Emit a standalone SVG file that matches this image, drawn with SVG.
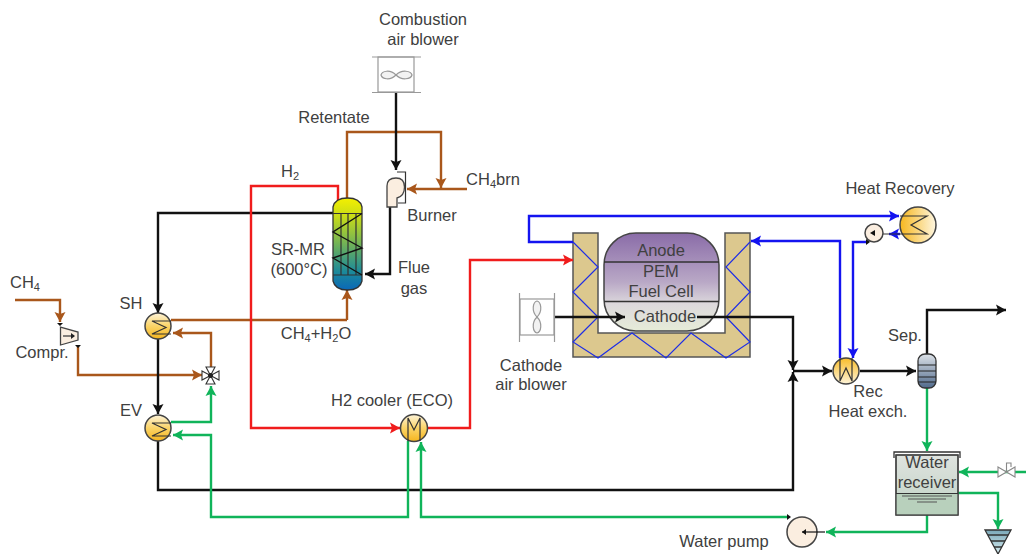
<svg xmlns="http://www.w3.org/2000/svg" width="1026" height="554" viewBox="0 0 1026 554">
<style>
text{font-family:"Liberation Sans",Arial,sans-serif;font-size:16.500px;fill:#404040;text-anchor:middle}
.sub{font-size:11px}
.l{fill:none;stroke-width:2.400;stroke-linejoin:miter}
.k{stroke:#111}.b{stroke:#a9571b}.r{stroke:#f01c1c}.g{stroke:#10b45a}.u{stroke:#1414f0}
.ak{marker-end:url(#ak)}.ab{marker-end:url(#ab)}.ar{marker-end:url(#ar)}.ag{marker-end:url(#ag)}.au{marker-end:url(#au)}
.hx{fill:url(#hxg);stroke:#444;stroke-width:1.500}
.ln{fill:none;stroke:#333;stroke-width:1.200}
.gr{fill:none;stroke:#999;stroke-width:1.200}
.pump{fill:#fbeee0;stroke:#444;stroke-width:1.500}
</style>
<defs>
<marker id="ak" markerUnits="userSpaceOnUse" markerWidth="11" markerHeight="12" refX="10" refY="6" orient="auto"><path d="M0 0.500L10 6L0 11.500L2 6Z" fill="#111"/></marker>
<marker id="ab" markerUnits="userSpaceOnUse" markerWidth="11" markerHeight="12" refX="10" refY="6" orient="auto"><path d="M0 0.500L10 6L0 11.500L2 6Z" fill="#a9571b"/></marker>
<marker id="ar" markerUnits="userSpaceOnUse" markerWidth="11" markerHeight="12" refX="10" refY="6" orient="auto"><path d="M0 0.500L10 6L0 11.500L2 6Z" fill="#f01c1c"/></marker>
<marker id="ag" markerUnits="userSpaceOnUse" markerWidth="11" markerHeight="12" refX="10" refY="6" orient="auto"><path d="M0 0.500L10 6L0 11.500L2 6Z" fill="#10b45a"/></marker>
<marker id="au" markerUnits="userSpaceOnUse" markerWidth="11" markerHeight="12" refX="10" refY="6" orient="auto"><path d="M0 0.500L10 6L0 11.500L2 6Z" fill="#1414f0"/></marker>
<linearGradient id="hxg" x1="0" y1="0" x2="0" y2="1"><stop offset="0" stop-color="#fdf3d8"/><stop offset="0.5" stop-color="#fbd468"/><stop offset="1" stop-color="#f5b51e"/></linearGradient>
<linearGradient id="hxh" x1="1" y1="0" x2="0" y2="0"><stop offset="0" stop-color="#fef6e0"/><stop offset="1" stop-color="#f7b71d"/></linearGradient>
<linearGradient id="hxs" x1="0" y1="1" x2="0" y2="0"><stop offset="0" stop-color="#fdf3d8"/><stop offset="1" stop-color="#f8bd2a"/></linearGradient>
<linearGradient id="rx" x1="0" y1="0" x2="0" y2="1"><stop offset="0" stop-color="#f4f000"/><stop offset="0.2" stop-color="#c8dc18"/><stop offset="0.55" stop-color="#62ab62"/><stop offset="0.8" stop-color="#1c8a9a"/><stop offset="1" stop-color="#0a68b8"/></linearGradient>
<linearGradient id="fc" x1="0" y1="0" x2="0" y2="1"><stop offset="0" stop-color="#8a6ca8"/><stop offset="0.5" stop-color="#b9a8c6"/><stop offset="0.72" stop-color="#dcd8dc"/><stop offset="1" stop-color="#e6ecd8"/></linearGradient>
<linearGradient id="wr" x1="0" y1="0" x2="0" y2="1"><stop offset="0" stop-color="#dfe3df"/><stop offset="1" stop-color="#c0d2c4"/></linearGradient>
<linearGradient id="sp" x1="0" y1="0" x2="0" y2="1"><stop offset="0" stop-color="#dde2e8"/><stop offset="1" stop-color="#506a8c"/></linearGradient>
<linearGradient id="tk" x1="0" y1="0" x2="0" y2="1"><stop offset="0" stop-color="#7aa8b8"/><stop offset="1" stop-color="#d8eef2"/></linearGradient>
</defs>

<g id="fuel-cell">
<path d="M573 233H598V333H725V233H750V357H573Z" fill="#dcc88e" stroke="#555" stroke-width="1.500"/>
<path d="M573 242L598 267L573 292L598 317L573 342L598 358L632 333L666 358L691 333L726 358L750 342L726 317L750 292L726 267L750 242" fill="none" stroke="#1e2ee6" stroke-width="1.200"/>
<rect x="604" y="233" width="115" height="98" rx="32" ry="32" fill="url(#fc)" stroke="#444" stroke-width="1.500"/>
<path d="M604 262H719M604 301.500H719" stroke="#333" stroke-width="1.300"/>
<text x="661" y="256">Anode</text>
<text x="661" y="277">PEM</text>
<text x="661" y="297">Fuel Cell</text>
<text x="665" y="322">Cathode</text>
</g>

<g id="connectors">
<path class="l b ab" d="M15 300H60V322"/>
<path class="l b ab" d="M78 345V375H202"/>
<path class="l b" d="M171 320H347"/>
<path class="l b ab" d="M347 320V290"/>
<path class="l b ab" d="M211 367V333H173"/>
<path class="l b ab" d="M347 198V132H441V188"/>
<path class="l b ab" d="M467 189H407"/>
<path class="l k ak" d="M333 213H158V313"/>
<path class="l k ak" d="M158 339V414"/>
<path class="l k ak" d="M158 441V490H793V372"/>
<path class="l k ak" d="M396 92V170"/>
<path class="l k ak" d="M390 207V274H365"/>
<path class="l k ak" d="M555 317H625"/>
<path class="l k ak" d="M697 317H793V370"/>
<path class="l k ak" d="M793 371H832"/>
<path class="l k ak" d="M860 371H916"/>
<path class="l k ak" d="M927 354V310H1006"/>
<path class="l r ar" d="M338 200V186H251V428H400"/>
<path class="l r ar" d="M427 428H470V260H573"/>
<path class="l g ag" d="M171 422H211V386"/>
<path class="l g ag" d="M408 441V517H211V435H173"/>
<path class="l g ag" d="M787 517H421V442"/>
<path class="l g ag" d="M927 515V532H826"/>
<path class="l g ag" d="M927 388V451"/>
<path class="l g ag" d="M1026 472H959"/>
<path class="l g ag" d="M958 493H998V529"/>
<path class="l u au" d="M573 242H529V216H899"/>
<path class="l u au" d="M840 358V241H751"/>
<path class="l u au" d="M900 234H889"/>
<path class="l u au" d="M868 242H853V358"/>
</g>

<g id="compressor">
<path d="M60.500 327L78 332V340L60.500 345Z" fill="#fbeee0" stroke="#444" stroke-width="1.300"/>
<path d="M63 336H74" class="ln"/><path d="M71 333L75 336L71 339Z" fill="#222"/>
<path d="M57 323H63L60 326ZM75 345H81L78 348Z" fill="#111"/>
<text x="42" y="358">Compr.</text>
<text x="25" y="288">CH<tspan class="sub" dy="3">4</tspan></text>
</g>

<g id="sh">
<circle cx="158" cy="326" r="13" class="hx"/>
<path class="ln" d="M171 321H152L166 327.500L152 334H171"/>
<text x="131" y="309">SH</text>
</g>

<g id="ev">
<circle cx="158" cy="428" r="13" class="hx"/>
<path class="ln" d="M171 423H152L166 429.500L152 436H171"/>
<text x="131" y="416">EV</text>
</g>

<g id="valve">
<path d="M202 371L210.500 375.500L202 380ZM219 371L210.500 375.500L219 380ZM206 367H215L210.500 375.500ZM206 384H215L210.500 375.500Z" fill="#fff" stroke="#333" stroke-width="1.100"/>
<circle cx="210.500" cy="375.500" r="2.500" fill="#222"/>
</g>

<g id="reactor">
<path d="M333 207Q335 198 347.500 198Q360 198 362 207V281Q360 290 347.500 290Q335 290 333 281Z" fill="url(#rx)" stroke="#333" stroke-width="1.300"/>
<path class="ln" d="M333 213.500H362M333 275H362M341 213V275M348 213V275M356 213V275"/>
<path d="M362 213.500L333 232L362 248L333 258L362 275" fill="none" stroke="#111" stroke-width="1.400"/>
<text x="298" y="255">SR-MR</text>
<text x="299" y="275">(600°C)</text>
<text x="290" y="177">H<tspan class="sub" dy="3">2</tspan></text>
<text x="334" y="123">Retentate</text>
<text x="414" y="273">Flue</text>
<text x="414" y="294">gas</text>
<text x="316" y="339">CH<tspan class="sub" dy="3">4</tspan><tspan dy="-3">+H</tspan><tspan class="sub" dy="3">2</tspan><tspan dy="-3">O</tspan></text>
</g>

<g id="combustion-air-blower">
<rect x="378" y="57" width="36" height="35" fill="#fff" stroke="#999" stroke-width="1.200"/>
<path class="gr" d="M372 57H421M372 92.500H421"/>
<path d="M396 75C390 69 382 71 381 75C382 79 390 81 396 75C402 69 411 71 412 75C411 79 402 81 396 75Z" fill="#f2f2f2" stroke="#999" stroke-width="1.200"/>
<text x="423" y="25">Combustion</text>
<text x="423" y="45">air blower</text>
</g>

<g id="burner">
<path d="M397 172H405.500V203H398" fill="none" stroke="#333" stroke-width="1.200"/>
<path d="M387 207V186Q387 178 396 178Q404.500 178 404.500 187Q404.500 196 397 198V207Z" fill="#fbeee0" stroke="#444" stroke-width="1.300"/>
<text x="432" y="221">Burner</text>
<text x="493" y="185">CH<tspan class="sub" dy="3">4</tspan><tspan dy="-3">brn</tspan></text>
</g>

<g id="h2-cooler">
<circle cx="414" cy="428" r="13.500" class="hx"/>
<path class="ln" d="M408 441V418L414 430L420 418V441"/>
<text x="392" y="406">H2 cooler (ECO)</text>
</g>

<g id="cathode-air-blower">
<rect x="520" y="299" width="34" height="36" fill="#fff" stroke="#999" stroke-width="1.200"/>
<path class="gr" d="M519.500 293V342M554.500 293V342"/>
<path d="M537 317C531 311 533 302 537 301C541 302 543 311 537 317C531 323 533 332 537 333C541 332 543 323 537 317Z" fill="#f2f2f2" stroke="#999" stroke-width="1.200"/>
<text x="531" y="371">Cathode</text>
<text x="531" y="390">air blower</text>
</g>

<g id="rec-hx">
<circle cx="846" cy="371" r="13" fill="url(#hxs)" stroke="#444" stroke-width="1.500"/>
<path class="ln" d="M840 358V381L846 368L852 381V358"/>
<text x="868" y="397">Rec</text>
<text x="868" y="417">Heat exch.</text>
</g>

<g id="heat-recovery">
<circle cx="918" cy="225" r="18" fill="url(#hxh)" stroke="#444" stroke-width="1.500"/>
<path class="ln" d="M900 216H927L911 225L927 234H880"/>
<text x="900" y="194">Heat Recovery</text>
</g>

<g id="small-pump">
<circle cx="874" cy="233" r="9" class="pump"/>
<path d="M870 233L875 230V236Z" fill="#111"/>
<path d="M866 239L870 242L866 245Z" fill="#111"/>
</g>

<g id="separator">
<rect x="918" y="354" width="18" height="34" rx="7" ry="7" fill="url(#sp)" stroke="#333" stroke-width="1.300"/>
<path d="M918 365H936M918 371H936M918 377H936M918 382H936" stroke="#222" stroke-width="1"/>
<text x="905" y="341">Sep.</text>
</g>

<g id="water-receiver">
<rect x="896" y="455" width="62" height="60" fill="url(#wr)" stroke="#444" stroke-width="1.300"/>
<path d="M896 493.500H958V515H896Z" fill="#b8d0bc"/>
<rect x="896" y="455" width="62" height="60" fill="none" stroke="#444" stroke-width="1.300"/>
<path d="M894 458V452H960V458" fill="none" stroke="#333" stroke-width="1.300"/>
<path d="M896 493.500H958" stroke="#333" stroke-width="1.200"/>
<path d="M902 496H952M908 499H946M917 502H937" stroke="#555" stroke-width="1.100"/>
<text x="927" y="468">Water</text>
<text x="927" y="488">receiver</text>
</g>

<g id="makeup-valve">
<path d="M998 467L1015 477V467L998 477Z" fill="#fff" stroke="#888" stroke-width="1.100"/>
<path d="M1006.500 472V463H1011V467" fill="none" stroke="#888" stroke-width="1.100"/>
</g>

<g id="drain">
<path d="M985 530H1011L998 554Z" fill="url(#tk)" stroke="#333" stroke-width="1.300"/>
<path d="M988 535H1008M991 541H1005M994 547H1002" stroke="#333" stroke-width="1.300"/>
</g>

<g id="water-pump">
<circle cx="802" cy="532" r="15" class="pump"/>
<path d="M802 532H825" stroke="#111" stroke-width="1.200"/><path d="M802 532L806 529V535Z" fill="#111"/>
<path d="M787 514L791 517L787 520Z" fill="#111"/>
<text x="724" y="547">Water pump</text>
</g>
</svg>
